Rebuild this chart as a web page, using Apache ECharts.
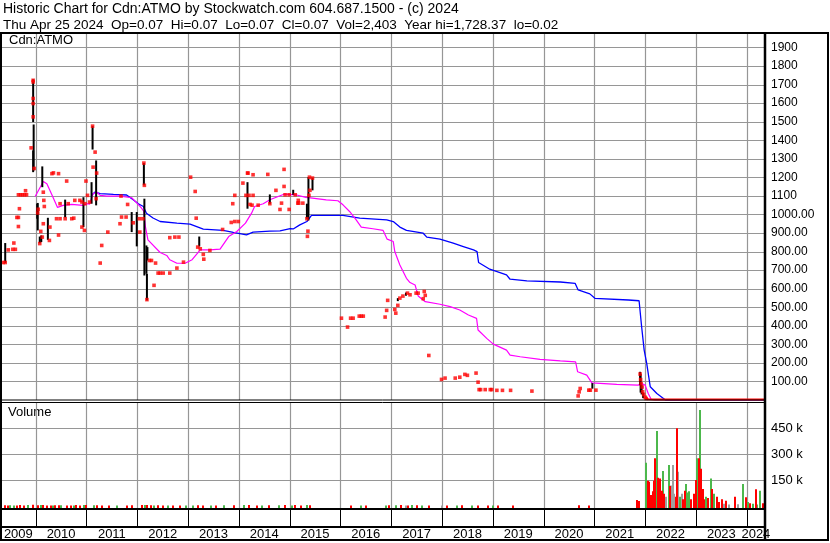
<!DOCTYPE html>
<html><head><meta charset="utf-8">
<script src="https://cdn.jsdelivr.net/npm/echarts@6/dist/echarts.min.js"></script>
<style>html,body{margin:0;padding:0;background:#fff}#c{width:830px;height:543px}</style>
</head><body><div id="c"></div>
<script>
// axis extents (decimal years)
const xMin = 2009.317, xMax = 2024.359;
const yearStarts = [2010,2011,2012,2013,2014,2015,2016,2017,2018,2019,2020,2021,2022,2023,2024];
const yearLabels = ['2009','2010','2011','2012','2013','2014','2015','2016','2017','2018','2019','2020','2021','2022','2023','2024'];
const priceTicks = [100,200,300,400,500,600,700,800,900,1000,1100,1200,1300,1400,1500,1600,1700,1800,1900];
const volTicks = [150000,300000,450000];

const headerLine1 = 'Historic Chart for Cdn:ATMO by Stockwatch.com 604.687.1500 - (c) 2024';
const headerLine2 = 'Thu Apr 25 2024  Op=0.07  Hi=0.07  Lo=0.07  Cl=0.07  Vol=2,403  Year hi=1,728.37  lo=0.02';
const symbolName = 'Cdn:ATMO';
const volumeName = 'Volume';

// daily closes [year, price]
const closes = [
 [2009.36,741],[2009.40,741],[2009.46,809],[2009.55,812],[2009.57,846],[2009.60,812],
 [2009.63,984],[2009.66,984],[2009.66,935],[2009.68,1031],
 [2009.66,1106],[2009.70,1106],[2009.74,1106],[2009.78,1106],[2009.82,1106],[2009.80,1128],
 [2009.91,1359],[2009.95,1723],[2009.95,1714],[2009.95,1625],[2009.95,1598],[2009.95,1526],[2009.97,1248],
 [2010.04,1008],[2010.05,1028],[2010.08,843],[2010.10,909],[2010.13,878],[2010.15,950],[2010.15,1120],
 [2010.16,1076],[2010.17,1043],[2010.27,860],[2010.28,932],[2010.32,1220],[2010.35,1224],[2010.45,1220],
 [2010.41,977],[2010.45,889],[2010.48,977],[2010.48,1058],[2010.61,1180],[2010.58,977],[2010.64,1058],
 [2010.71,977],[2010.75,980],[2010.77,1076],[2010.87,1076],[2010.91,1067],[2010.91,932],[2010.96,914],
 [2010.97,1058],[2010.99,1180],[2011.02,1103],[2011.06,1067],[2011.13,1255],[2011.17,1336],[2011.12,1476],
 [2011.20,1223],[2011.19,1085],[2011.27,738],[2011.30,833],[2011.42,905],[2011.68,1099],[2011.66,950],
 [2011.69,986],[2011.78,986],[2011.81,1054],[2011.92,955],[2012.04,977],[2012.05,905],[2012.13,1277],
 [2012.14,1157],[2012.11,977],[2012.19,541],[2012.24,752],[2012.28,752],[2012.33,618],[2012.36,738],
 [2012.41,684],[2012.45,684],[2012.51,684],[2012.64,684],[2012.64,875],[2012.74,878],[2012.82,878],
 [2012.91,743],[2012.78,711],[2013.05,1201],[2013.14,1124],[2013.16,980],[2013.19,824],[2013.24,815],
 [2013.30,785],[2013.31,759],[2013.43,806],[2013.68,919],[2013.85,957],[2013.92,962],[2013.99,962],
 [2013.88,1058],[2013.92,1103],[2014.08,1169],[2014.17,1223],[2014.18,1223],[2014.14,1103],[2014.20,1103],
 [2014.22,1054],[2014.28,1214],[2014.28,1103],[2014.26,1050],[2014.38,1050],[2014.57,1216],
 [2014.89,1243],[2014.73,1130],[2014.89,1151],[2014.61,1058],[2014.84,1061],[2014.81,1027],[2014.91,1106],
 [2014.99,1106],[2015.11,1106],[2015.17,1076],[2015.16,1061],[2015.18,1061],[2015.26,1061],[2014.99,1027],
 [2015.39,1201],[2015.45,1196],[2015.40,1130],[2015.38,1103],[2015.36,910],[2015.35,882],[2015.34,977],
 [2016.02,441],[2016.14,393],[2016.20,441],[2016.25,441],[2016.37,452],[2016.41,452],[2016.45,452],
 [2016.88,447],[2016.91,483],[2016.93,537],[2017.07,488],[2017.09,468],[2017.13,510],[2017.17,549],
 [2017.23,560],[2017.32,576],[2017.37,567],[2017.49,576],[2017.53,576],[2017.65,585],[2017.67,564],
 [2017.63,546],[2017.74,240],[2017.99,111],[2018.06,118],[2018.26,118],[2018.35,123],[2018.45,138],
 [2018.50,133],[2018.67,145],[2018.71,96],[2018.73,56],[2018.76,56],[2018.85,56],[2018.95,56],[2018.98,56],
 [2019.08,52],[2019.19,52],[2019.35,52],[2019.77,48],
 [2020.68,22],[2020.70,44],[2020.72,62],[2020.89,53],[2020.92,53],[2021.03,53],
 [2021.90,140],[2021.91,110],[2021.92,88],[2021.94,70],[2021.95,45],[2021.97,30],[2022.00,15],[2022.02,8]
];
// recent closes near zero
const closeTail = [[2022.02,8],[2022.06,4],[2022.20,3],[2022.60,3],[2023.20,3],[2023.80,3],[2024.359,3]];

// daily high-low ranges [year, low, high]
const ranges = [
 [2009.40,739,846],[2009.95,1498,1728],[2009.96,1237,1485],[2009.95,1228,1345],[2010.03,977,1058],[2010.04,914,1062],
 [2010.08,845,881],[2010.11,851,887],[2010.13,1147,1259],[2010.24,863,982],[2010.58,984,1080],[2010.94,932,1093],
 [2011.10,1058,1174],[2011.12,1350,1476],[2011.19,1049,1291],[2011.89,905,1013],[2011.99,828,1013],
 [2012.13,1157,1277],[2012.14,671,1085],[2012.18,680,833],[2012.20,752,824],[2012.19,537,680],
 [2013.22,827,881],[2014.17,1031,1174],[2014.61,1058,1108],[2015.07,1106,1133],[2015.37,968,1201],
 [2015.45,1130,1196],[2015.34,977,1058],[2017.13,533,549],[2017.29,562,579],[2020.96,61,91],
 [2021.90,80,152],[2021.91,40,140],[2021.93,30,80],[2021.96,10,40]
];

// moving averages [year, price]
const maShort = [
 [2009.99,1097],[2010.15,1178],[2010.22,1166],[2010.31,1112],[2010.43,1038],[2010.54,1049],[2010.71,1054],
 [2010.93,1049],[2011.02,1058],[2011.06,1055],[2011.13,1112],[2011.20,1121],[2011.27,1103],[2011.40,1099],
 [2011.66,1099],[2011.89,1090],[2011.99,1062],[2012.08,1035],[2012.13,1016],[2012.16,935],[2012.21,863],
 [2012.45,795],[2012.58,779],[2012.64,756],[2012.78,737],[2012.94,737],[2013.08,756],[2013.24,809],
 [2013.43,809],[2013.63,813],[2013.80,881],[2013.96,908],[2014.13,953],[2014.25,1007],[2014.31,1043],
 [2014.48,1058],[2014.61,1079],[2014.90,1110],[2015.12,1106],[2015.32,1092],[2015.45,1088],[2015.72,1079],
 [2015.95,1074],[2016.05,1052],[2016.18,1016],[2016.31,971],[2016.41,932],[2016.64,923],[2016.84,914],
 [2016.92,867],[2017.04,854],[2017.07,800],[2017.17,728],[2017.30,656],[2017.37,633],[2017.47,620],
 [2017.53,561],[2017.67,530],[2017.96,516],[2018.16,503],[2018.35,485],[2018.52,458],[2018.68,440],
 [2018.71,377],[2018.88,332],[2019.01,301],[2019.27,269],[2019.34,242],[2019.54,233],[2019.93,219],
 [2020.33,211],[2020.63,206],[2020.67,152],[2020.85,134],[2020.95,92],[2021.44,84],[2021.86,80],
 [2021.93,88],[2022.00,80],[2022.06,35],[2022.12,3],[2022.20,1],[2024.359,1]
];
const maLong = [
 [2011.10,1103],[2011.17,1121],[2011.27,1112],[2011.53,1108],[2011.79,1105],[2011.92,1079],[2012.02,1058],
 [2012.12,1043],[2012.18,1007],[2012.31,981],[2012.45,962],[2012.78,953],[2013.04,948],[2013.30,921],
 [2013.69,914],[2013.89,903],[2014.15,890],[2014.28,905],[2014.61,910],[2014.81,912],[2015.01,924],
 [2015.07,922],[2015.20,944],[2015.34,962],[2015.43,995],[2016.05,995],[2016.38,980],[2016.91,971],
 [2017.04,962],[2017.17,932],[2017.30,914],[2017.63,899],[2017.70,878],[2017.96,867],[2018.22,845],
 [2018.42,827],[2018.62,809],[2018.69,800],[2018.72,741],[2018.94,705],[2019.27,674],[2019.34,651],
 [2019.67,642],[2020.33,636],[2020.62,629],[2020.68,593],[2020.91,572],[2021.01,548],[2021.67,539],
 [2021.88,535],[2021.93,395],[2021.98,269],[2022.03,197],[2022.10,71],[2022.23,35],[2022.36,8],
 [2022.40,0],[2024.359,0]
];

// volume [year, shares]
const volRed = [
 [2009.40,6000],[2009.45,4000],[2009.63,5000],[2009.70,8000],[2009.76,5000],[2009.95,9000],[2010.05,6000],
 [2010.15,7000],[2010.22,4000],[2010.30,5000],[2010.38,6000],[2010.45,6000],[2010.62,5000],[2010.70,4000],
 [2010.80,7000],[2010.88,5000],[2011.00,8000],[2011.20,6000],[2011.30,4000],[2011.45,5000],[2011.80,5000],
 [2011.90,6000],[2012.10,7000],[2012.20,8000],[2012.27,6000],[2012.40,6000],[2012.50,5000],[2012.70,5000],
 [2012.85,4000],[2013.20,6000],[2013.30,5000],[2013.55,5000],[2013.90,6000],[2014.20,7000],[2014.35,5000],
 [2014.60,6000],[2014.90,7000],[2015.10,8000],[2015.22,5000],[2015.40,6000],[2016.20,5000],[2016.50,5000],
 [2016.95,6000],[2017.20,7000],[2017.33,5000],[2017.50,6000],[2017.75,5000],[2018.10,5000],[2018.40,6000],
 [2018.70,5000],[2018.90,4000],[2019.10,5000],[2019.40,4000],[2020.70,6000],[2020.90,5000],
 [2021.845,36000],[2021.88,30000],[2022.05,148000],[2022.08,141000],[2022.11,65000],[2022.16,87000],
 [2022.18,148000],[2022.20,277000],[2022.26,165000],[2022.29,160000],[2022.33,90000],[2022.38,72000],
 [2022.49,117000],[2022.60,55000],[2022.63,450000],[2022.75,40000],[2022.78,90000],[2022.91,40000],
 [2022.97,72000],[2023.00,152000],[2023.05,277000],[2023.10,216000],[2023.13,100000],[2023.16,40000],
 [2023.23,48000],[2023.32,100000],[2023.41,55000],[2023.45,25000],[2023.51,40000],[2023.60,32000],
 [2023.77,55000],[2023.98,52000],[2024.06,18000],[2024.18,98000],[2024.31,18000]
];
const volGreen = [
 [2009.50,6000],[2009.58,4000],[2009.85,7000],[2010.10,8000],[2010.34,5000],[2010.50,6000],[2010.76,4000],
 [2010.95,7000],[2011.15,6000],[2011.60,4000],[2012.15,7000],[2012.33,5000],[2012.60,5000],[2012.95,4000],
 [2013.10,5000],[2013.45,4000],[2013.70,6000],[2014.10,7000],[2014.45,4000],[2014.80,6000],[2015.05,5000],
 [2015.35,8000],[2016.40,5000],[2016.90,4000],[2017.10,6000],[2017.40,7000],[2017.60,4000],[2018.30,5000],
 [2018.60,4000],[2019.00,5000],
 [2022.016,251000],[2022.24,434000],[2022.35,204000],[2022.46,238000],[2022.68,55000],[2022.80,129000],
 [2022.83,80000],[2022.87,87000],[2023.03,277000],[2023.07,556000],[2023.19,55000],[2023.29,160000],
 [2023.36,72000],[2023.93,129000],[2024.03,25000],[2024.13,15000],[2024.21,10000],[2024.26,90000]
];
const volGray = [
 [2017.30,5000],[2018.00,5000],
 [2022.41,55000],[2022.51,120000],[2022.54,238000],[2022.57,72000],[2022.65,200000],[2022.72,72000],
 [2023.55,15000],[2023.65,10000],[2023.83,12000]
];

const FONT = '"Liberation Sans", Arial, sans-serif';
const GRID_GRAY = 'rgb(150,150,150)';
const labelMids = yearLabels.map((y) => {
  const s = Math.max(xMin, +y), e = Math.min(xMax, +y + 1);
  return (s + e) / 2;
});

function hiLoItem(params, api) {
  const a = api.coord([api.value(0), api.value(1)]);
  const b = api.coord([api.value(0), api.value(2)]);
  return {type:'line', shape:{x1:a[0], y1:a[1], x2:b[0], y2:b[1]}, style:{stroke:'#000', lineWidth:2}};
}
function volItem(color) {
  return function (params, api) {
    const p = api.coord([api.value(0), api.value(1)]);
    const bottom = params.coordSys.y + params.coordSys.height;
    return {type:'rect', shape:{x:Math.round(p[0])-1, y:p[1], width:2, height:bottom - p[1]}, style:{fill:color}};
  };
}
// grid lines at axis values, positioned by the axes' own scales
function vGrid(xi, yi, yRef, color, w) {
  return {
    type:'custom', xAxisIndex:xi, yAxisIndex:yi, silent:true, clip:false, z:1,
    data: yearStarts.map(v => [v, yRef]), encode:{x:0, y:1},
    renderItem:(params, api) => {
      const p = api.coord([api.value(0), api.value(1)]);
      const cs = params.coordSys; const x = Math.round(p[0]) + 0.5;
      return {type:'line', shape:{x1:x, y1:cs.y, x2:x, y2:cs.y + cs.height}, style:{stroke:color, lineWidth:w, opacity:1}};
    }
  };
}
function hGrid(xi, yi, ticks, color, w) {
  return {
    type:'custom', xAxisIndex:xi, yAxisIndex:yi, silent:true, clip:false, z:1,
    data: ticks.map(v => [xMin, v]), encode:{x:0, y:1},
    renderItem:(params, api) => {
      const p = api.coord([api.value(0), api.value(1)]);
      const cs = params.coordSys; const y = Math.round(p[1]) + 0.5;
      return {type:'line', shape:{x1:cs.x, y1:y, x2:cs.x + cs.width, y2:y}, style:{stroke:color, lineWidth:w, opacity:1}};
    }
  };
}
const xBase = (gi) => ({
  type:'value', gridIndex:gi, min:xMin, max:xMax,
  axisLine:{show:false}, axisTick:{show:false},
  axisLabel:{show:false}, splitLine:{show:false}
});

const chart = echarts.init(document.getElementById('c'), null, {renderer:'canvas'});
chart.setOption({
  animation:false,
  backgroundColor:'#fff',
  grid:[
    {left:1, right:65, top:33, height:367},
    {left:1, right:65, top:402.5, height:106.5},
    {left:1, right:65, top:509, height:18}
  ],
  xAxis:[
    xBase(0),
    xBase(1),
    Object.assign(xBase(2), {
      axisLabel:{show:true, customValues:labelMids, margin:1, color:'#000', fontSize:13, fontFamily:FONT,
        formatter:(v) => { const i = labelMids.findIndex(m => Math.abs(m - v) < 1e-6); return i >= 0 ? yearLabels[i] : ''; }}
    })
  ],
  yAxis:[
    {type:'value', gridIndex:0, position:'right', min:0, max:1978,
     axisLine:{show:false}, axisTick:{show:false},
     axisLabel:{customValues:priceTicks, margin:6, color:'#000', fontSize:12, fontFamily:FONT,
       formatter:(v) => v >= 1100 ? String(v) : v.toFixed(2)},
     splitLine:{show:false}},
    {type:'value', gridIndex:1, position:'right', min:-15600, max:598800,
     axisLine:{show:false}, axisTick:{show:false},
     axisLabel:{customValues:volTicks, margin:6, color:'#000', fontSize:13, fontFamily:FONT,
       formatter:(v) => (v/1000) + ' k'},
     splitLine:{show:false}},
    {type:'value', gridIndex:2, show:false, min:0, max:1, splitLine:{show:false}}
  ],
  series:[
    vGrid(0, 0, 500, GRID_GRAY, 1.2),
    hGrid(0, 0, priceTicks, GRID_GRAY, 1.2),
    vGrid(1, 1, 100000, GRID_GRAY, 1.2),
    hGrid(1, 1, volTicks, GRID_GRAY, 1.2),
    vGrid(2, 2, 0.5, '#000', 1),
    {type:'line', xAxisIndex:0, yAxisIndex:0, data:maLong, showSymbol:false, symbol:'none',
     lineStyle:{color:'#0000ff', width:1.3}, z:2},
    {type:'line', xAxisIndex:0, yAxisIndex:0, data:maShort, showSymbol:false, symbol:'none',
     lineStyle:{color:'#ff00ff', width:1.2}, z:3},
    {type:'line', xAxisIndex:0, yAxisIndex:0, data:closeTail, showSymbol:false, symbol:'none',
     lineStyle:{color:'#ff0000', width:2}, z:4},
    {type:'custom', xAxisIndex:0, yAxisIndex:0, data:ranges, renderItem:hiLoItem, clip:true, z:4,
     encode:{x:0, y:[1,2]}},
    {type:'scatter', xAxisIndex:0, yAxisIndex:0, data:closes, symbol:'rect', symbolSize:3.6,
     itemStyle:{color:'#ff0000'}, z:5},
    {type:'custom', xAxisIndex:1, yAxisIndex:1, data:volGray, renderItem:volItem('#a0a0a0'), clip:true, encode:{x:0,y:1}, z:3},
    {type:'custom', xAxisIndex:1, yAxisIndex:1, data:volGreen, renderItem:volItem('#4cb84c'), clip:true, encode:{x:0,y:1}, z:3},
    {type:'custom', xAxisIndex:1, yAxisIndex:1, data:volRed, renderItem:volItem('#ff0000'), clip:true, encode:{x:0,y:1}, z:3}
  ],
  graphic:[
    {type:'text', left:3, top:2, style:{text:headerLine1, font:'14px ' + FONT, fill:'#000'}},
    {type:'text', left:3, top:18, style:{text:headerLine2, font:'13.5px ' + FONT, fill:'#000'}},
    {type:'text', left:9, top:34, style:{text:symbolName, font:'13px ' + FONT, fill:'#000'}},
    {type:'text', left:8, top:406, style:{text:volumeName, font:'13px ' + FONT, fill:'#000'}},
    {type:'line', shape:{x1:0, y1:400, x2:765, y2:400}, style:{stroke:'#000', lineWidth:1}, z:10},
    {type:'line', shape:{x1:0, y1:402.5, x2:765, y2:402.5}, style:{stroke:'#000', lineWidth:1}, z:10},
    {type:'line', shape:{x1:0, y1:509, x2:765, y2:509}, style:{stroke:'#000', lineWidth:2}, z:10},
    {type:'line', shape:{x1:0, y1:527, x2:765, y2:527}, style:{stroke:'#000', lineWidth:2}, z:10},
    {type:'line', shape:{x1:765, y1:33, x2:765, y2:541}, style:{stroke:'#000', lineWidth:2.5}, z:10},
    {type:'rect', shape:{x:1, y:33, width:827, height:507}, style:{fill:null, stroke:'#000', lineWidth:2}, z:10}
  ]
});
</script>
</body></html>
